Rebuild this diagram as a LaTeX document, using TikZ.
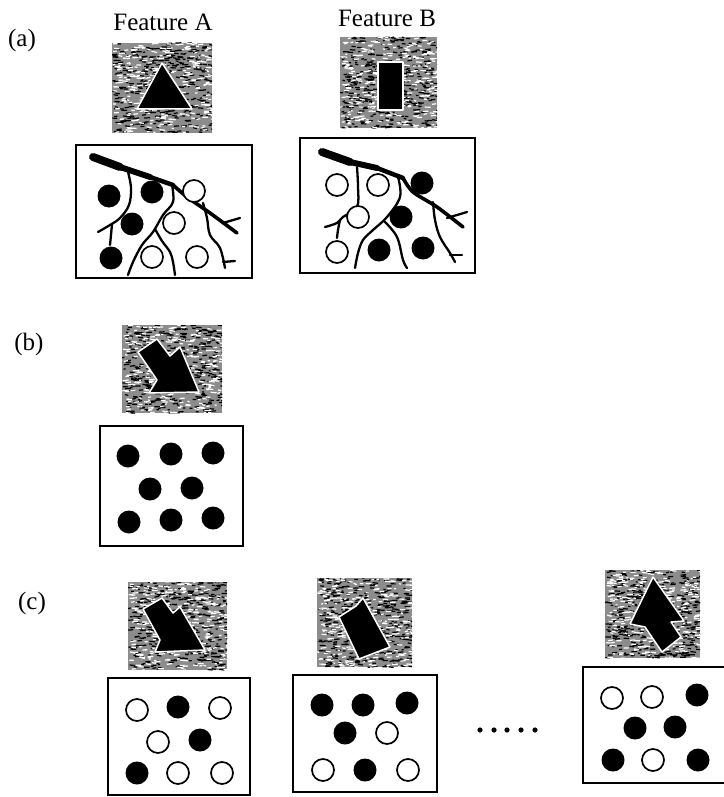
\documentclass[tikz,border=0pt]{standalone}
\usepackage{fontspec}
\setmainfont{Liberation Serif}
\begin{document}
% textured grey patch: grey ground covered by short random black and white dashes
\newcommand\noisepatch[4]{%
  \begin{scope}
    \clip (#1,#2) rectangle (#3,#4);
    \fill[black!45] (#1,#2) rectangle (#3,#4);
    \foreach \k in {1,...,420}{%
      \pgfmathsetmacro\px{#1+rnd*(#3-#1)}%
      \pgfmathsetmacro\py{#2+rnd*(#4-#2)}%
      \pgfmathsetmacro\pl{2+4*rnd}%
      \draw[black, line width=1.2pt] (\px,\py) -- ++(\pl,0.8*rand);
    }
    \foreach \k in {1,...,300}{%
      \pgfmathsetmacro\px{#1+rnd*(#3-#1)}%
      \pgfmathsetmacro\py{#2+rnd*(#4-#2)}%
      \pgfmathsetmacro\pl{2+4*rnd}%
      \draw[white, line width=1.2pt] (\px,\py) -- ++(\pl,0.8*rand);
    }
  \end{scope}}
\begin{tikzpicture}[x=1pt, y=-1pt,
  frame/.style={draw=black, line width=1.8pt},
  full/.style={fill=black},
  hollow/.style={draw=black, line width=1.7pt, fill=white},
  twig/.style={draw=black, line width=2.3pt, line cap=round, line join=round},
  glyph/.style={fill=black, draw=white, line width=1.5pt, line join=round},
  lbl/.style={font=\fontsize{25}{29}\selectfont, inner sep=0pt}]
\pgfmathsetseed{7}
\useasboundingbox (0,0) rectangle (723,797);
\fill[white] (0,0) rectangle (723,797);

% ---------- (a) ----------
\node[lbl] (la) at (22,40) {(a)};
\node[lbl] (fa) at (163,22) {Feature A};
\node[lbl] (fb) at (387,18) {Feature B};

\noisepatch{112}{43}{212}{133}
\filldraw[glyph] (162,63) -- (137,109) -- (192,109) -- cycle;
\noisepatch{340}{37}{437}{128}
\filldraw[glyph] (378,62) rectangle (403,110);

% left scene: branches with filled and open cells
\draw[frame] (76,145) rectangle (252,278);
\begin{scope}
  \draw[twig, line width=8pt] (93,157) -- (120,167);
  \draw[twig, line width=6pt] (120,167) -- (150,177);
  \draw[twig, line width=4.5pt] (150,177) -- (173,185);
  \draw[twig, line width=3.6pt] plot[smooth, tension=0.5] coordinates {(173,185) (187,197) (210,213) (237,233)};
  \draw[twig] (223,223) -- (240,218);
  \draw[twig] plot[smooth, tension=0.6] coordinates {(128,172) (131,188) (129,205) (120,218) (110,225) (98,232)};
  \draw[twig] plot[smooth, tension=0.6] coordinates {(112,224) (111,235) (110,245)};
  \draw[twig] plot[smooth, tension=0.6] coordinates {(172,185) (173,202) (163,215) (153,232) (142,245) (133,262) (128,275)};
  \draw[twig] plot[smooth, tension=0.6] coordinates {(155,229) (162,241) (170,252) (173,262) (175,275)};
  \draw[twig] plot[smooth, tension=0.6] coordinates {(203,203) (207,218) (210,235) (220,248) (225,268)};
  \draw[twig] (223,262) -- (235,261);
\end{scope}
\fill[full] (109,196) circle (11.5pt);
\fill[full] (152,192) circle (11.5pt);
\draw[hollow] (194,191) circle (11pt);
\fill[full] (132,224) circle (11.5pt);
\draw[hollow] (174,223) circle (11pt);
\fill[full] (111,258) circle (11.5pt);
\draw[hollow] (152,257) circle (11pt);
\draw[hollow] (197,257) circle (11pt);

% right scene
\draw[frame] (300,138) rectangle (475,273);
\begin{scope}
  \draw[twig, line width=8pt] (322,152) -- (350,162);
  \draw[twig, line width=6pt] (350,162) -- (377,168);
  \draw[twig, line width=4.5pt] (377,168) -- (403,178);
  \draw[twig, line width=3.6pt] plot[smooth, tension=0.5] coordinates {(403,178) (413,192) (437,207) (463,227)};
  \draw[twig] (447,218) -- (467,212);
  \draw[twig] plot[smooth, tension=0.6] coordinates {(357,167) (358,187) (357,207) (343,217) (337,223) (325,227)};
  \draw[twig] plot[smooth, tension=0.6] coordinates {(340,220) (338,230) (337,238)};
  \draw[twig] plot[smooth, tension=0.6] coordinates {(398,177) (400,197) (387,217) (373,230) (363,240) (358,253) (355,268)};
  \draw[twig] plot[smooth, tension=0.6] coordinates {(385,222) (397,237) (403,260) (407,268)};
  \draw[twig] plot[smooth, tension=0.6] coordinates {(433,202) (435,220) (440,237) (450,253) (455,262)};
  \draw[twig] (450,255) -- (462,255);
\end{scope}
\draw[hollow] (337,185) circle (11pt);
\draw[hollow] (378,185) circle (11pt);
\fill[full] (422,183) circle (11.5pt);
\draw[hollow] (358,217) circle (11pt);
\fill[full] (401,217) circle (11.5pt);
\draw[hollow] (337,252) circle (11pt);
\fill[full] (379,250) circle (11.5pt);
\fill[full] (423,248) circle (11.5pt);

% ---------- (b) ----------
\node[lbl] (lb) at (29,344) {(b)};
\noisepatch{122}{325}{222}{413}
\filldraw[glyph] (138,352) -- (157,339) -- (170,356) -- (180,347) -- (199,392) -- (149,393) -- (157,380) -- cycle;
\draw[frame] (100,426) rectangle (243,546);
\foreach \cx/\cy in {128/456, 171/454, 213/453, 150/489, 192/488, 129/522, 171/520, 213/518}
  \fill[full] (\cx,\cy) circle (11.5pt);

% ---------- (c) ----------
\node[lbl] (lc) at (32,603) {(c)};

\noisepatch{128}{582}{227}{670}
\filldraw[glyph] (143,609) -- (162,598) -- (173,613) -- (180,607) -- (205,650) -- (155,652) -- (160,640) -- cycle;
\draw[frame] (108,678) rectangle (250,795);
\draw[hollow] (137,710) circle (11pt);
\fill[full] (178,707) circle (11.5pt);
\draw[hollow] (220,708) circle (11pt);
\draw[hollow] (158,742) circle (11pt);
\fill[full] (200,740) circle (11.5pt);
\fill[full] (137,773) circle (11.5pt);
\draw[hollow] (178,773) circle (11pt);
\draw[hollow] (222,773) circle (11pt);

\noisepatch{317}{578}{412}{667}
\filldraw[glyph] (339,617) -- (356,606) -- (363,598) -- (390,647) -- (359,659) -- (350,640) -- cycle;
\draw[frame] (293,675) rectangle (437,792);
\fill[full] (322,705) circle (11.5pt);
\fill[full] (363,705) circle (11.5pt);
\fill[full] (407,703) circle (11.5pt);
\fill[full] (345,733) circle (11.5pt);
\draw[hollow] (387,733) circle (11pt);
\draw[hollow] (323,770) circle (11pt);
\fill[full] (365,770) circle (11.5pt);
\draw[hollow] (408,770) circle (11pt);

% ellipsis between the scenes
\foreach \dx in {480,494,507,521,535}
  \fill (\dx,730) circle (2.6pt);

\noisepatch{605}{570}{700}{658}
\filldraw[glyph] (653,577) -- (684,621) -- (671,622) -- (681,637) -- (662,652) -- (645,627) -- (630,624) -- cycle;
\draw[frame] (583,667) rectangle (735,783);
\draw[hollow] (612,698) circle (11pt);
\draw[hollow] (652,697) circle (11pt);
\fill[full] (697,695) circle (11.5pt);
\fill[full] (635,728) circle (11.5pt);
\fill[full] (675,727) circle (11.5pt);
\fill[full] (613,760) circle (11.5pt);
\draw[hollow] (653,760) circle (11pt);
\fill[full] (698,760) circle (11.5pt);
\end{tikzpicture}
\end{document}
